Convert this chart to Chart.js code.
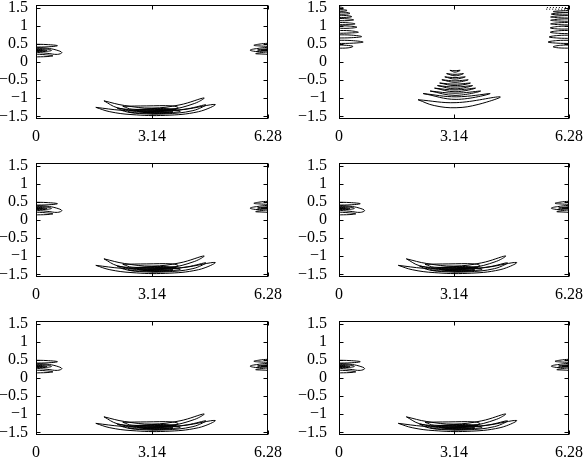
<!DOCTYPE html>
<html>
<head>
<meta charset="utf-8">
<script src="https://cdn.jsdelivr.net/npm/chart.js@4/dist/chart.umd.min.js"></script>
<style>
  html, body { margin: 0; padding: 0; background: #fff; overflow: hidden; }
  #fig { position: relative; width: 585px; height: 457px; }
  #fig canvas { position: absolute; }
</style>
</head>
<body>
<div id="fig"></div>
<script>
const xTicks = [0, 3.14159, 6.28319];
const xTickLabels = ["0", "3.14", "6.28"];
const yTicks = [-1.5, -1, -0.5, 0, 0.5, 1, 1.5];
const yTickLabels = ["\u22121.5", "\u22121", "\u22120.5", "0", "0.5", "1", "1.5"];

// contours shared by panels 1, 3, 4, 5, 6
const edgeLeftA = [
  [[-0.05, 0.49], [0.3, 0.48], [0.58, 0.45], [0.35, 0.42], [-0.05, 0.41]],
  [[-0.05, 0.40], [0.3, 0.38], [0.55, 0.33], [0.70, 0.26], [0.58, 0.21], [0.3, 0.24], [-0.05, 0.27]],
  [[-0.05, 0.37], [0.25, 0.36], [0.42, 0.32], [0.25, 0.29], [-0.05, 0.29]],
  [[-0.05, 0.35], [0.18, 0.34], [0.3, 0.32], [0.18, 0.31], [-0.05, 0.31]],
  [[-0.05, 0.33], [0.1, 0.33], [0.18, 0.32], [0.1, 0.315], [-0.05, 0.315]],
  [[-0.05, 0.22], [0.25, 0.2], [0.46, 0.17], [0.3, 0.15], [-0.05, 0.14]]
];
const edgeRightA = [
  [[6.33, 0.52], [6.1, 0.5], [5.9, 0.46], [6.1, 0.44], [6.33, 0.43]],
  [[6.33, 0.41], [6.05, 0.38], [5.8, 0.33], [5.95, 0.29], [6.15, 0.3], [6.33, 0.31]],
  [[6.33, 0.37], [6.12, 0.35], [6.0, 0.33], [6.12, 0.32], [6.33, 0.32]],
  [[6.33, 0.35], [6.2, 0.34], [6.1, 0.33], [6.2, 0.33], [6.33, 0.33]],
  [[6.33, 0.28], [6.1, 0.26], [5.95, 0.23], [6.12, 0.22], [6.33, 0.21]]
];
const troughA = [
  [[1.62, -1.25], [2.3, -1.33], [3.14, -1.37], [4.0, -1.31], [4.85, -1.17], [4.4, -1.37], [3.5, -1.47], [2.6, -1.45], [2.0, -1.37], [1.62, -1.25]],
  [[1.84, -1.07], [2.4, -1.2], [3.14, -1.27], [3.9, -1.18], [4.55, -0.99], [4.3, -1.14], [3.6, -1.32], [2.8, -1.35], [2.2, -1.26], [1.84, -1.07]],
  [[2.2, -1.27], [2.8, -1.34], [3.5, -1.35], [4.1, -1.29], [4.6, -1.18], [4.25, -1.34], [3.5, -1.43], [2.8, -1.42], [2.4, -1.36], [2.2, -1.27]],
  [[2.35, -1.22], [3.0, -1.21], [3.7, -1.21], [3.85, -1.26], [3.6, -1.3], [2.6, -1.3], [2.35, -1.22]],
  [[2.55, -1.33], [3.2, -1.3], [3.85, -1.33], [3.9, -1.37], [3.2, -1.41], [2.5, -1.38], [2.55, -1.33]],
  [[2.8, -1.35], [3.5, -1.34], [3.7, -1.37], [3.2, -1.39], [2.8, -1.38], [2.8, -1.35]],
  [[2.7, -1.31], [3.3, -1.28], [3.8, -1.31], [3.3, -1.33], [2.7, -1.31]],
  [[2.9, -1.39], [3.3, -1.38], [3.6, -1.4], [3.3, -1.42], [2.9, -1.39]]
];

// contours of panel 2
const stackLeftB = [
  [[-0.05, 0.47], [0.2, 0.46], [0.38, 0.43], [0.25, 0.39], [-0.05, 0.38]],
  [[-0.05, 0.6], [0.35, 0.59], [0.66, 0.55], [0.4, 0.52], [-0.05, 0.51]],
  [[-0.05, 0.75], [0.35, 0.74], [0.62, 0.7], [0.35, 0.67], [-0.05, 0.66]],
  [[-0.05, 0.87], [0.3, 0.86], [0.53, 0.82], [0.3, 0.8], [-0.05, 0.79]],
  [[-0.05, 1.0], [0.28, 0.99], [0.49, 0.96], [0.28, 0.93], [-0.05, 0.93]],
  [[-0.05, 1.09], [0.25, 1.08], [0.44, 1.05], [0.25, 1.03], [-0.05, 1.03]],
  [[-0.05, 1.2], [0.22, 1.19], [0.4, 1.16], [0.22, 1.14], [-0.05, 1.14]],
  [[-0.05, 1.29], [0.2, 1.28], [0.35, 1.25], [0.2, 1.23], [-0.05, 1.23]],
  [[-0.05, 1.37], [0.17, 1.37], [0.3, 1.34], [0.17, 1.32], [-0.05, 1.32]],
  [[-0.05, 1.44], [0.12, 1.44], [0.22, 1.42], [0.12, 1.4], [-0.05, 1.4]],
  [[-0.05, 1.52], [0.06, 1.51], [0.12, 1.49], [0.06, 1.47], [-0.05, 1.47]]
];
const stackRightB = [
  [[6.33, 0.47], [6.05, 0.46], [5.85, 0.42], [6.0, 0.39], [6.33, 0.38]],
  [[6.33, 0.6], [5.95, 0.59], [5.71, 0.55], [5.95, 0.52], [6.33, 0.51]],
  [[6.33, 0.74], [5.98, 0.73], [5.74, 0.69], [5.98, 0.66], [6.33, 0.65]],
  [[6.33, 0.87], [6.0, 0.86], [5.77, 0.82], [6.0, 0.79], [6.33, 0.78]],
  [[6.33, 0.99], [6.0, 0.98], [5.77, 0.94], [6.0, 0.91], [6.33, 0.91]],
  [[6.33, 1.09], [6.0, 1.08], [5.78, 1.05], [6.0, 1.03], [6.33, 1.02]],
  [[6.33, 1.19], [6.0, 1.18], [5.78, 1.15], [6.0, 1.13], [6.33, 1.12]],
  [[6.33, 1.28], [6.0, 1.27], [5.78, 1.24], [6.0, 1.22], [6.33, 1.21]],
  [[6.33, 1.36], [6.02, 1.35], [5.8, 1.32], [6.02, 1.3], [6.33, 1.3]],
  [[6.33, 1.42], [6.05, 1.41], [5.85, 1.39], [6.05, 1.37], [6.33, 1.37]]
];
const dottedB = [
  [[5.68, 1.5], [6.28, 1.5]],
  [[5.66, 1.455], [6.28, 1.455]]
];
const pyramidB = [
  [[3.03, -0.23], [3.17, -0.24], [3.31, -0.23], [3.17, -0.28], [3.03, -0.23]],
  [[2.94, -0.32], [3.17, -0.34], [3.40, -0.32], [3.17, -0.38], [2.94, -0.32]],
  [[2.89, -0.41], [3.17, -0.43], [3.45, -0.41], [3.17, -0.47], [2.89, -0.41]],
  [[2.81, -0.49], [3.17, -0.52], [3.53, -0.49], [3.17, -0.56], [2.81, -0.49]],
  [[2.75, -0.58], [3.17, -0.61], [3.59, -0.58], [3.17, -0.65], [2.75, -0.58]],
  [[2.69, -0.65], [3.17, -0.69], [3.65, -0.65], [3.17, -0.74], [2.69, -0.65]],
  [[2.61, -0.72], [3.17, -0.77], [3.73, -0.72], [3.17, -0.82], [2.61, -0.72]],
  [[2.49, -0.8], [3.17, -0.86], [3.87, -0.8], [3.17, -0.92], [2.49, -0.8]],
  [[2.3, -0.87], [3.2, -0.96], [4.13, -0.87], [3.2, -1.03], [2.3, -0.87]],
  [[2.16, -1.04], [3.2, -1.12], [4.4, -0.96], [3.8, -1.17], [3.2, -1.26], [2.6, -1.2], [2.16, -1.04]]
];

const panelA = [edgeLeftA, edgeRightA, troughA];
const panelB = [stackLeftB, stackRightB, pyramidB];

Chart.defaults.font.family = "'Liberation Serif', 'Times New Roman', serif";
Chart.defaults.font.size = 16;
Chart.defaults.color = "#000";

function toDatasets(groups, dashed) {
  const out = [];
  groups.forEach((loops) => {
    loops.forEach((loop) => {
      out.push({
        data: loop.map(([x, y]) => ({ x, y })),
        showLine: true,
        borderColor: "#000",
        borderWidth: 1,
        pointRadius: 0,
        tension: dashed ? 0 : 0.4,
        borderDash: dashed ? [1, 2] : [],
        fill: false,
      });
    });
  });
  return out;
}

// box round the plot, with inward ticks on all four sides
const boxPlugin = {
  id: "box",
  afterDraw(chart) {
    const { ctx, chartArea: a, scales } = chart;
    const L = Math.round(a.left) + 0.5, R = Math.round(a.right) - 0.5;
    const T = Math.round(a.top) + 0.5, B = Math.round(a.bottom) - 0.5;
    const len = 4;
    ctx.save();
    ctx.strokeStyle = "#000";
    ctx.lineWidth = 1;
    ctx.strokeRect(L, T, R - L, B - T);
    ctx.beginPath();
    xTicks.forEach((v) => {
      const px = Math.round(scales.x.getPixelForValue(v)) + 0.5;
      ctx.moveTo(px, B); ctx.lineTo(px, B - len);
      ctx.moveTo(px, T); ctx.lineTo(px, T + len);
    });
    yTicks.forEach((v) => {
      const py = Math.round(scales.y.getPixelForValue(v)) + 0.5;
      ctx.moveTo(L, py); ctx.lineTo(L + len, py);
      ctx.moveTo(R, py); ctx.lineTo(R - len, py);
    });
    ctx.stroke();
    ctx.restore();
  },
};

const cols = [
  { left: 0, yWidth: 36, padRight: 22, labelPad: 8 },
  { left: 295, yWidth: 44, padRight: 16, labelPad: 12 },
];
const rowTops = [0, 158, 316];
const panels = [panelA, panelB, panelA, panelA, panelA, panelA];

const fig = document.getElementById("fig");
panels.forEach((groups, i) => {
  const col = cols[i % 2];
  const canvas = document.createElement("canvas");
  canvas.width = 290;
  canvas.height = 150;
  canvas.style.left = col.left + "px";
  canvas.style.top = rowTops[Math.floor(i / 2)] + "px";
  fig.appendChild(canvas);

  const datasets = toDatasets(groups, false);
  if (groups === panelB) datasets.push(...toDatasets([dottedB], true));

  new Chart(canvas.getContext("2d"), {
    type: "scatter",
    data: { datasets },
    options: {
      responsive: false,
      animation: false,
      events: [],
      layout: { padding: { top: 5, right: col.padRight, left: 0, bottom: 0 } },
      plugins: { legend: { display: false }, tooltip: { enabled: false } },
      scales: {
        x: {
          type: "linear",
          min: 0,
          max: 6.28319,
          afterBuildTicks: (s) => { s.ticks = xTicks.map((v) => ({ value: v })); },
          afterFit: (s) => { s.height = 31; s.paddingLeft = 0; s.paddingRight = 0; },
          ticks: { padding: 8, maxRotation: 0, autoSkip: false, callback: (v, idx) => xTickLabels[idx] },
          grid: { display: false, drawTicks: false },
          border: { display: false },
        },
        y: {
          type: "linear",
          min: -1.5708,
          max: 1.5708,
          afterBuildTicks: (s) => { s.ticks = yTicks.map((v) => ({ value: v })); },
          afterFit: (s) => { s.width = col.yWidth; s.paddingTop = 0; s.paddingBottom = 0; },
          ticks: { padding: col.labelPad, autoSkip: false, callback: (v, idx) => yTickLabels[idx] },
          grid: { display: false, drawTicks: false },
          border: { display: false },
        },
      },
    },
    plugins: [boxPlugin],
  });
});
</script>
</body>
</html>
